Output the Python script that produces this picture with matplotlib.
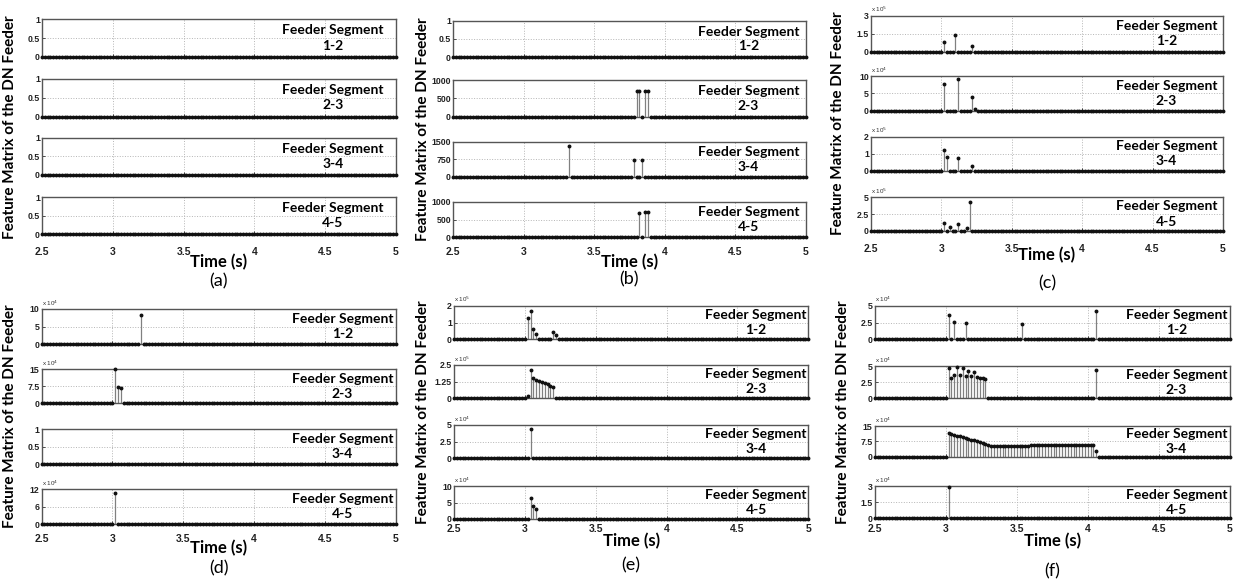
import numpy as np
import matplotlib.pyplot as plt
from matplotlib.ticker import FuncFormatter

plt.rcParams['font.family'] = ['Liberation Sans', 'DejaVu Sans']
label_font = ['Lato', 'DejaVu Sans']

W, H = 1248, 581

# sample clock of the feature matrix (s)
t = np.round(np.arange(2.5, 5.0 + 1e-9, 0.02), 2)

segments = ['1-2', '2-3', '3-4', '4-5']
tags = ['(a)', '(b)', '(c)', '(d)', '(e)', '(f)']
xticks = [2.5, 3, 3.5, 4, 4.5, 5]

# nonzero feature entries per segment: (times [s], values)
feat_a = {}
feat_b = {
    '2-3': ([3.80, 3.82, 3.86, 3.88], [700, 700, 700, 700]),
    '3-4': ([3.32, 3.78, 3.84], [1300, 700, 700]),
    '4-5': ([3.82, 3.86, 3.88], [680, 710, 710]),
}
feat_c = {
    '1-2': ([3.02, 3.10, 3.22], [0.8e5, 1.43e5, 0.5e5]),
    '2-3': ([3.02, 3.12, 3.22, 3.24], [7.6e4, 9.05e4, 3.86e4, 0.4e4]),
    '3-4': ([3.02, 3.04, 3.12, 3.22], [1.22e5, 0.8e5, 0.77e5, 0.29e5]),
    '4-5': ([3.02, 3.06, 3.12, 3.18, 3.20], [1.18e5, 0.54e5, 0.94e5, 0.44e5, 4.32e5]),
}
feat_d = {
    '1-2': ([3.20], [8.2e4]),
    '2-3': ([3.02, 3.04, 3.06], [15e4, 7.3e4, 6.6e4]),
    '4-5': ([3.02], [10.8e4]),
}
feat_e = {
    '1-2': ([3.02, 3.04, 3.06, 3.08, 3.20, 3.22],
            [1.28e5, 1.69e5, 0.6e5, 0.3e5, 0.45e5, 0.28e5]),
    '2-3': ([3.02, 3.04, 3.06, 3.08, 3.10, 3.12, 3.14, 3.16, 3.18, 3.20],
            [0.15e5, 2.15e5, 1.55e5, 1.38e5, 1.28e5, 1.2e5, 1.12e5, 1.04e5, 0.96e5, 0.85e5]),
    '3-4': ([3.04], [4.44e4]),
    '4-5': ([3.04, 3.06, 3.08], [6.3e4, 3.9e4, 2.9e4]),
}
f_34_vals = [11.5, 11.0, 10.7, 10.3, 9.9, 9.6, 9.2, 8.8, 8.4, 8.0, 7.6, 7.2, 6.7, 6.2,
             5.7, 5.4, 5.3, 5.3, 5.3, 5.3, 5.3, 5.35, 5.35, 5.4, 5.4, 5.4, 5.4, 5.45,
             5.45, 5.5, 5.5, 5.5, 5.5, 5.55, 5.55, 5.6, 5.6, 5.6, 5.6, 5.65, 5.65, 5.7,
             5.7, 5.7, 5.75, 5.75, 5.8, 5.8, 5.85, 5.85, 5.9, 5.9, 2.9]
feat_f = {
    '1-2': ([3.02, 3.06, 3.14, 3.54, 4.06], [3.55e4, 2.55e4, 2.5e4, 2.28e4, 4.26e4]),
    '2-3': ([3.02, 3.04, 3.06, 3.08, 3.10, 3.12, 3.14, 3.16, 3.18, 3.20, 3.22, 3.24,
             3.26, 3.28, 4.06],
            [4.75e4, 3.2e4, 3.65e4, 4.85e4, 3.6e4, 4.75e4, 3.5e4, 4.2e4, 3.4e4, 4.05e4,
             3.3e4, 3.15e4, 3.1e4, 3.05e4, 4.4e4]),
    '3-4': (list(t[(t >= 3.02) & (t <= 4.06)]), [v * 1e4 for v in f_34_vals]),
    '4-5': ([3.02], [2.95e4]),
}
features = [feat_a, feat_b, feat_c, feat_d, feat_e, feat_f]

# y range top and tick exponent for each segment plot
ymax = [[1, 1, 1, 1],
        [1, 1000, 1500, 1000],
        [3e5, 10e4, 2e5, 5e5],
        [10e4, 15e4, 1, 12e4],
        [2e5, 2.5e5, 5e4, 10e4],
        [5e4, 5e4, 15e4, 3e4]]
yexp = [[0, 0, 0, 0],
        [0, 0, 0, 0],
        [5, 4, 5, 5],
        [4, 4, 0, 4],
        [5, 5, 4, 4],
        [4, 4, 4, 4]]

# pixel layout: x0, x1, rows (top, bottom), tick label y, time label y, tag y, ylabel x, text x
layout = [
    (42, 396, [(19.3, 56.7), (79, 116.7), (138, 175), (197.3, 234.3)], 251.7, 261.7, 281.7, 10, 0.822),
    (453, 806, [(20.7, 57.3), (80, 116.7), (141.7, 176.7), (201.7, 237.3)], 251.7, 261.7, 279.5, 422.7, 0.837),
    (871, 1223, [(15.7, 51.7), (76, 110.7), (136.7, 170.7), (197.3, 230.7)], 248.3, 255, 283.3, 838.3, 0.839),
    (41.5, 396, [(309, 344), (369.3, 403.3), (429.3, 464), (489.3, 524)], 538.3, 548.3, 568.3, 10, 0.849),
    (454, 808.3, [(305.7, 339.3), (365, 398.3), (425, 458.3), (486, 519)], 528.3, 540.7, 565, 422.7, 0.853),
    (874.7, 1229.7, [(305.7, 339.3), (366, 398.3), (426, 456.7), (486, 518.3)], 528.3, 540.7, 571.7, 842.7, 0.85),
]

fig = plt.figure(figsize=(W / 100, H / 100), dpi=100)

for p in range(6):
    x0, x1, rows, tick_y, time_y, tag_y, ylab_x, text_x = layout[p]
    for s, seg in enumerate(segments):
        top, bot = rows[s]
        ax = fig.add_axes([x0 / W, 1 - bot / H, (x1 - x0) / W, (bot - top) / H])

        y = np.zeros_like(t)
        if seg in features[p]:
            times, vals = features[p][seg]
            for ti, vi in zip(times, vals):
                y[np.argmin(np.abs(t - ti))] = vi

        ml, sl, bl = ax.stem(t, y, basefmt=' ')
        plt.setp(sl, color='#808080', linewidth=0.9)
        plt.setp(ml, color='#111111', marker='o', markersize=1.8, clip_on=False,
                 zorder=3)

        top_val = ymax[p][s]
        n = yexp[p][s]
        ax.set_xlim(2.5, 5)
        ax.set_ylim(0, top_val)
        ax.set_xticks(xticks)
        ax.xaxis.set_major_formatter(FuncFormatter(lambda v, pos: '%g' % v))
        ax.set_yticks([0, top_val / 2, top_val])
        ax.yaxis.set_major_formatter(
            FuncFormatter(lambda v, pos, n=n: '%g' % (v / 10 ** n)))
        ax.grid(True, color='#b5b5b5', linestyle=':', linewidth=0.7)
        ax.set_axisbelow(True)
        for sp in ax.spines.values():
            sp.set_color('#555555')
            sp.set_linewidth(1.0)
        ax.tick_params(direction='in', length=2, width=0.6, colors='#333333',
                       labelcolor='#222222', pad=1.5)
        ax.tick_params(axis='y', labelsize=6.3)
        for lab in ax.get_yticklabels():
            lab.set_fontweight('bold')

        if s == 3:
            pad_pt = (tick_y - bot - 4.5) * 72 / 100
            ax.tick_params(axis='x', labelsize=7.5, pad=pad_pt)
            for lab in ax.get_xticklabels():
                lab.set_fontweight('bold')
        else:
            ax.tick_params(axis='x', labelbottom=False)

        if n:
            ax.text(0, 1.04, r'x 10$^{%d}$' % n, transform=ax.transAxes,
                    fontsize=4.5, ha='left', va='bottom', color='#333333')

        ax.text(text_x, 0.5, 'Feeder Segment\n' + seg, transform=ax.transAxes,
                ha='center', va='center', multialignment='center',
                fontsize=10, fontweight='bold', family=label_font,
                linespacing=1.3)

    xc = (x0 + x1) / 2 / W
    yc = 1 - (rows[0][0] + rows[3][1]) / 2 / H
    fig.text(ylab_x / W, yc, 'Feature Matrix of the DN Feeder', rotation=90,
             ha='center', va='center', fontsize=11, fontweight='bold',
             family=label_font)
    fig.text(xc, 1 - time_y / H, 'Time (s)', ha='center', va='center',
             fontsize=12, fontweight='bold', family=label_font)
    fig.text(xc, 1 - tag_y / H, tags[p], ha='center', va='center',
             fontsize=13, family=label_font)

fig.savefig('out.png', dpi=100)
